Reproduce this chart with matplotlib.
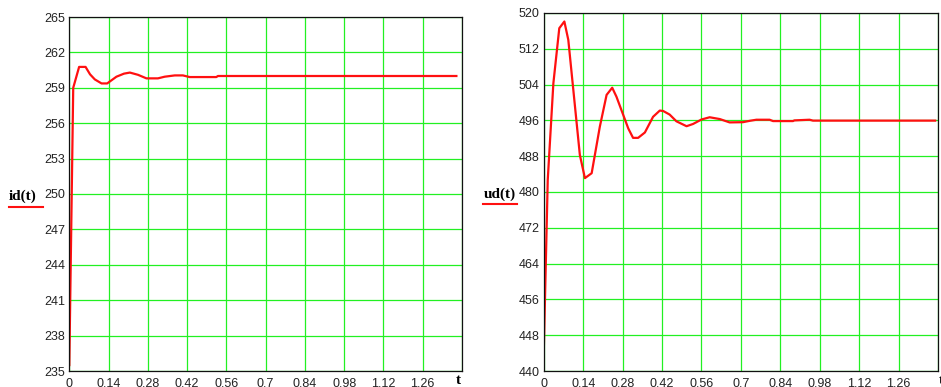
import matplotlib
matplotlib.use('Agg')
import matplotlib.pyplot as plt
from matplotlib.lines import Line2D

# id(t)
t_id = [0, 0.014, 0.035, 0.058, 0.074, 0.091, 0.115, 0.135, 0.168, 0.195, 0.216,
        0.245, 0.275, 0.316, 0.34, 0.376, 0.405, 0.429, 0.524, 0.53, 1.38]
id_vals = [235.5, 259.0, 260.77, 260.77, 260.14, 259.71, 259.37, 259.37, 259.94, 260.2, 260.29,
           260.1, 259.8, 259.8, 259.94, 260.05, 260.05, 259.91, 259.91, 260.0, 260.0]

# ud(t)
t_ud = [0, 0.014, 0.034, 0.055, 0.073, 0.087, 0.128, 0.146, 0.170, 0.199, 0.223, 0.243,
        0.258, 0.30, 0.317, 0.335, 0.359, 0.388, 0.412, 0.424, 0.447, 0.471, 0.507, 0.530,
        0.56, 0.589, 0.625, 0.66, 0.707, 0.731, 0.755, 0.802, 0.814, 0.885, 0.89, 0.944,
        0.956, 1.39]
ud_vals = [444.7, 482.7, 504.3, 516.6, 518.1, 514.0, 488.3, 483.1, 484.2, 494.6, 501.7, 503.3,
           501.3, 494.2, 492.1, 492.1, 493.3, 496.8, 498.2, 498.1, 497.3, 495.8, 494.7, 495.2,
           496.2, 496.7, 496.3, 495.55, 495.6, 495.9, 496.15, 496.15, 495.85, 495.85, 496.0, 496.15,
           495.95, 495.95]

x_ticks = [0, 0.14, 0.28, 0.42, 0.56, 0.7, 0.84, 0.98, 1.12, 1.26, 1.4]
x_labels = ['0', '0.14', '0.28', '0.42', '0.56', '0.7', '0.84', '0.98', '1.12', '1.26', '']
id_ticks = list(range(235, 266, 3))
ud_ticks = list(range(440, 521, 8))

W, H = 941, 387
fig = plt.figure(figsize=(W / 100, H / 100), dpi=100)

TICK_FONT = 'Liberation Sans'
LABEL_FONT = 'Liberation Serif'


def style_axes(ax, yticks):
    ax.set_xlim(0, 1.4)
    ax.set_ylim(yticks[0], yticks[-1])
    ax.set_xticks(x_ticks)
    ax.set_xticklabels(x_labels)
    ax.set_yticks(yticks)
    ax.set_yticklabels([str(v) for v in yticks])
    ax.grid(True, color='#22f022', lw=0.9)
    ax.set_axisbelow(True)
    ax.tick_params(length=0, labelsize=9, colors='#222222', pad=3)
    ax.tick_params(axis='x', pad=5)
    for lab in ax.get_xticklabels() + ax.get_yticklabels():
        lab.set_fontfamily(TICK_FONT)
    for sp in ax.spines.values():
        sp.set_color('#111111')
        sp.set_linewidth(0.9)


# left panel
ax1 = fig.add_axes([69.3 / W, 1 - 371 / H, (462 - 69.3) / W, (371 - 17) / H])
ax1.plot(t_id, id_vals, color='#ff1010', lw=1.6)
style_axes(ax1, id_ticks)

# right panel
ax2 = fig.add_axes([543.8 / W, 1 - 371 / H, (938 - 543.8) / W, (371 - 13) / H])
ax2.plot(t_ud, ud_vals, color='#ff1010', lw=1.6)
style_axes(ax2, ud_ticks)

# trace labels with red underline, Mathcad style
fig.text(23 / W, 1 - 196 / H, 'id(t)', ha='center', va='center',
         fontfamily=LABEL_FONT, fontweight='bold', fontsize=11)
fig.add_artist(Line2D([9.3 / W, 42.7 / W], [1 - 207.3 / H, 1 - 207.3 / H],
                      color='#ff1010', lw=1.5))
fig.text(499.5 / W, 1 - 194 / H, 'ud(t)', ha='center', va='center',
         fontfamily=LABEL_FONT, fontweight='bold', fontsize=11)
fig.add_artist(Line2D([482.7 / W, 516.7 / W], [1 - 204.3 / H, 1 - 204.3 / H],
                      color='#ff1010', lw=1.5))

# axis variable label
fig.text(458 / W, 1 - 380 / H, 't', ha='center', va='center',
         fontfamily=LABEL_FONT, fontweight='bold', fontsize=11)
fig.text(941 / W, 1 - 380 / H, 't', ha='center', va='center',
         fontfamily=LABEL_FONT, fontweight='bold', fontsize=11)

fig.savefig('out.png', dpi=100, facecolor='white')
